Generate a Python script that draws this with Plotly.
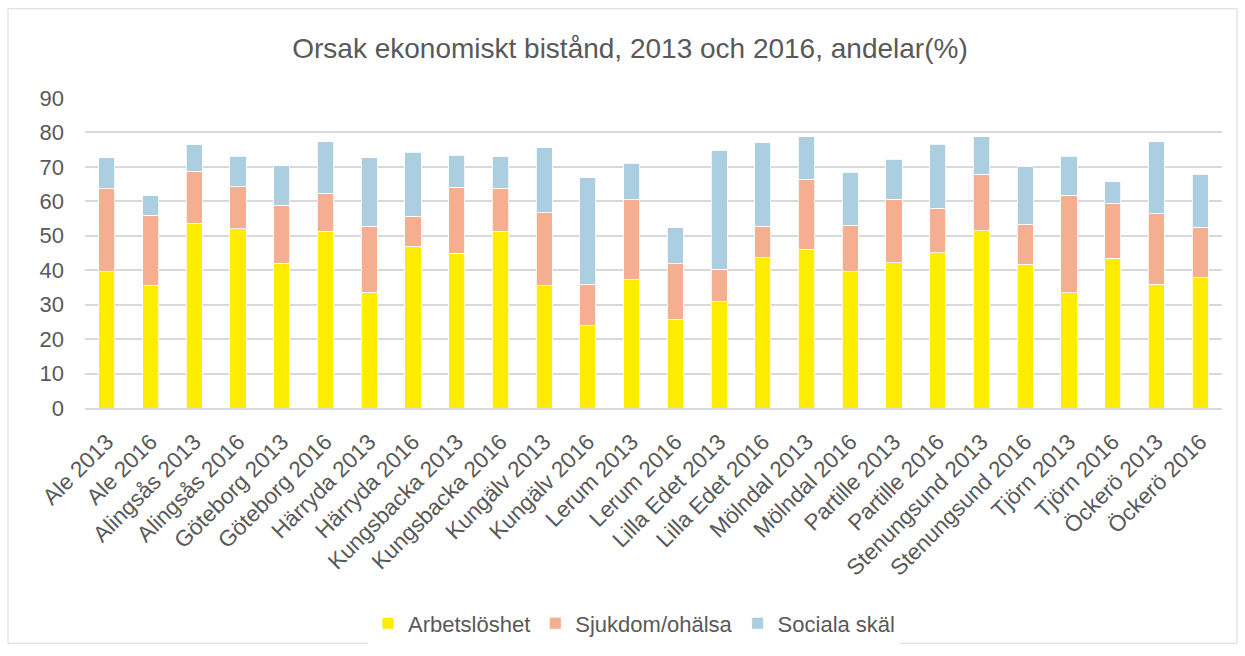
import plotly.graph_objects as go

categories = ["Ale 2013", "Ale 2016", "Alingsås 2013", "Alingsås 2016", "Göteborg 2013",
              "Göteborg 2016", "Härryda 2013", "Härryda 2016", "Kungsbacka 2013",
              "Kungsbacka 2016", "Kungälv 2013", "Kungälv 2016", "Lerum 2013", "Lerum 2016",
              "Lilla Edet 2013", "Lilla Edet 2016", "Mölndal 2013", "Mölndal 2016",
              "Partille 2013", "Partille 2016", "Stenungsund 2013", "Stenungsund 2016",
              "Tjörn 2013", "Tjörn 2016", "Öckerö 2013", "Öckerö 2016"]

arbetsloshet = [39.5, 35.5, 53.7, 52.0, 42.0, 51.3, 33.6, 47.0, 44.9, 51.3, 35.5, 23.9, 37.2,
                25.7, 30.9, 43.6, 46.1, 39.5, 42.2, 45.1, 51.5, 41.7, 33.4, 43.5, 36.0, 37.8]
sjukdom = [24.2, 20.5, 15.0, 12.3, 16.9, 11.0, 19.1, 8.7, 19.2, 12.5, 21.2, 12.1, 23.3,
           16.2, 9.4, 9.1, 20.3, 13.6, 18.4, 12.9, 16.3, 11.7, 28.4, 15.8, 20.4, 14.7]
sociala = [8.9, 5.6, 7.7, 8.8, 11.4, 15.0, 20.0, 18.6, 9.3, 9.1, 18.9, 30.8, 10.6,
           10.4, 34.6, 24.3, 12.3, 15.3, 11.6, 18.6, 11.0, 16.7, 11.3, 6.4, 20.9, 15.4]

series = [("Arbetslöshet", arbetsloshet, "#FFED00"),
          ("Sjukdom/ohälsa", sjukdom, "#F5AE90"),
          ("Sociala skäl", sociala, "#ABCFE1")]

fig = go.Figure()
for name, vals, color in series:
    fig.add_trace(go.Bar(x=categories, y=vals, name=name,
                         marker=dict(color=color, line=dict(color="white", width=0.8))))

font_fam = "Liberation Sans, Arial, sans-serif"
fig.update_layout(
    barmode="stack",
    bargap=0.63,
    width=1245, height=656,
    paper_bgcolor="white", plot_bgcolor="white",
    margin=dict(l=85, r=23, t=98, b=245),
    title=dict(text="Orsak ekonomiskt bistånd, 2013 och 2016, andelar(%)",
               x=0.506, xanchor="center", y=0.927, yanchor="middle",
               font=dict(family=font_fam, size=28, color="#595959")),
    font=dict(family=font_fam, color="#595959"),
    legend=dict(orientation="h", x=(634 - 85) / 1137, xanchor="center", y=-0.695,
                yanchor="middle", font=dict(size=22, color="#595959"), itemwidth=30,
                traceorder="normal"),
    showlegend=True,
)
fig.update_yaxes(range=[0, 90], dtick=10, showgrid=True, gridcolor="#D9D9D9", gridwidth=1.5,
                 zeroline=False, showline=False, tickfont=dict(size=22, color="#595959"),
                 ticks="", ticklabelstandoff=20, automargin=False)
fig.update_xaxes(tickangle=-45, tickfont=dict(size=22.5, color="#595959"), showline=True,
                 linecolor="#D9D9D9", linewidth=1.5, ticks="", showgrid=False,
                 ticklabelstandoff=10, automargin=False)

fig.add_shape(type="rect", xref="paper", yref="paper",
              x0=(8-85)/1137, x1=(1237-85)/1137, y0=(410.7-648)/312.7, y1=(410.7-8)/312.7,
              line=dict(color="#D9D9D9", width=1), fillcolor="rgba(0,0,0,0)", layer="below")

fig.write_html("out.html", config={"displayModeBar": False},
               post_script="document.body.style.margin='0';")
